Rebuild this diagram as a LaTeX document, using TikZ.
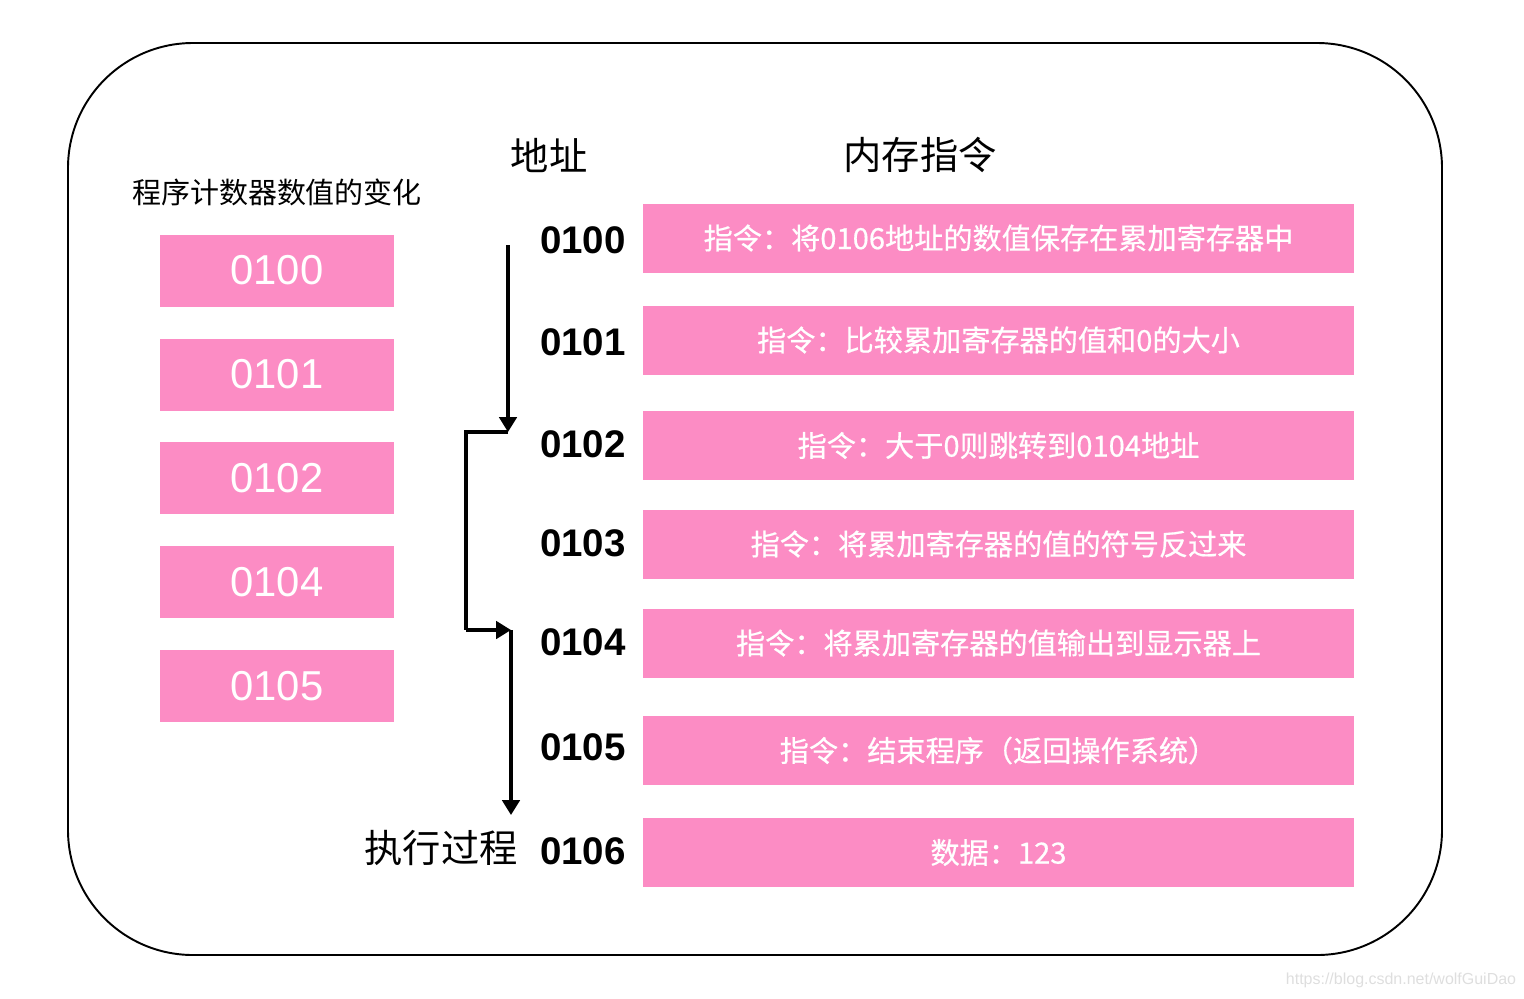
\documentclass[tikz,border=0pt]{standalone}
\usepackage{fontspec}
\setmainfont{Liberation Sans}
\newfontfamily\cjk{Noto Sans CJK SC}
\newfontfamily\cjkmed[FakeBold=0.6]{Noto Sans CJK SC}
\usetikzlibrary{arrows.meta}
\definecolor{cellpink}{RGB}{252,140,196}

\begin{document}
\begin{tikzpicture}[x=0.02cm,y=-0.02cm,
	pcbox/.style={fill=cellpink,inner sep=0,minimum width=4.68cm,minimum height=1.44cm,text=white,font=\fontsize{23.8}{26}\selectfont},
	membox/.style={fill=cellpink,inner sep=0,minimum width=14.22cm,minimum height=1.38cm,text=white,font=\cjkmed\fontsize{16.6}{19}\selectfont},
	addr/.style={anchor=east,inner sep=0,font=\bfseries\fontsize{21.9}{24}\selectfont},
	head/.style={inner sep=0,font=\cjk\fontsize{21.8}{24}\selectfont},
	flow/.style={line width=1.8pt}]
	\useasboundingbox (0,0) rectangle (1524,998);
	\draw[line width=1.1pt,rounded corners=2.5cm] (68,43) rectangle (1442,955);
	\node[inner sep=0,font=\cjk\fontsize{16.5}{19}\selectfont] (title) at (277,192) {程序计数器数值的变化};
	\node[head] (addrhead) at (549,155) {地址};
	\node[head] (memhead) at (920,155) {内存指令};
	\node[pcbox] (pc1) at (277,270.5) {0100};
	\node[pcbox] (pc2) at (277,374.5) {0101};
	\node[pcbox] (pc3) at (277,478) {0102};
	\node[pcbox] (pc4) at (277,582) {0104};
	\node[pcbox] (pc5) at (277,686) {0105};
	\node[addr] (a0) at (626,240) {0100};
	\node[addr] (a1) at (626,342) {0101};
	\node[addr] (a2) at (626,444) {0102};
	\node[addr] (a3) at (626,543) {0103};
	\node[addr] (a4) at (626,642) {0104};
	\node[addr] (a5) at (626,747) {0105};
	\node[addr] (a6) at (626,851) {0106};
	\node[membox] (m0) at (998.5,238) {指令：将0106地址的数值保存在累加寄存器中};
	\node[membox] (m1) at (998.5,340) {指令：比较累加寄存器的值和0的大小};
	\node[membox] (m2) at (998.5,445.5) {指令：大于0则跳转到0104地址};
	\node[membox] (m3) at (998.5,544) {指令：将累加寄存器的值的符号反过来};
	\node[membox] (m4) at (998.5,643) {指令：将累加寄存器的值输出到显示器上};
	\node[membox] (m5) at (998.5,750.5) {指令：结束程序（返回操作系统）};
	\node[membox] (m6) at (998.5,852.5) {数据：123};
	\node[head] (run) at (441,848) {执行过程};
	\coordinate (s1) at (508,245);
	\coordinate (t1) at (508,432);
	\coordinate (j1) at (466,432);
	\coordinate (j2) at (466,630);
	\coordinate (t2) at (511,630);
	\coordinate (t3) at (511,815);
	\draw[flow,-{Triangle[length=8.5pt,width=10pt]}] (s1) -- (t1);
	\draw[flow] (t1) -- (j1) -- (j2);
	\draw[flow,-{Triangle[length=8.5pt,width=10pt]}] (j2) -- (t2);
	\draw[flow,-{Triangle[length=8.5pt,width=10pt]}] (t2) -- (t3);
	\node[inner sep=0,text=black!13,font=\fontsize{9.1}{11}\selectfont] (mark) at (1401,980) {https://blog.csdn.net/wolfGuiDao};
\end{tikzpicture}
\end{document}
